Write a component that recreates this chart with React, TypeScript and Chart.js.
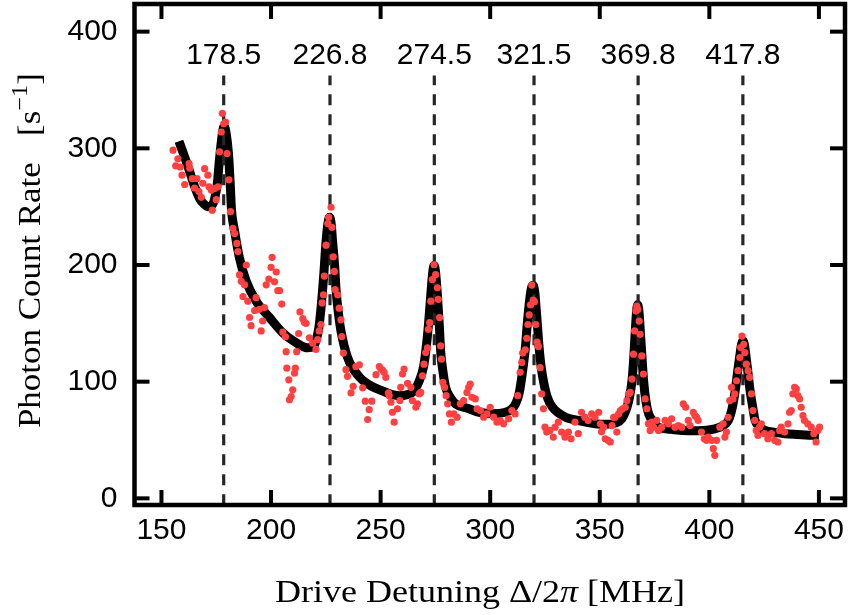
import React, { useEffect, useRef } from "react";
import { Chart, registerables } from "chart.js";

Chart.register(...registerables);

const xTicks = [150, 200, 250, 300, 350, 400, 450];
const yTicks = [0, 100, 200, 300, 400];
const xRange = [137.7, 461.9];
const yRange = [-5.7, 423.7];

const peakPositions = [178.4, 226.9, 274.5, 320.0, 367.5, 415.3];
const peakLabels = ["178.5", "226.8", "274.5", "321.5", "369.8", "417.8"];
const peakLineRange = [-6, 362.5];
const peakLabelY = 372.4;

const fitX = [
  158.0, 160.5, 162.9, 165, 167.4, 169.5, 171.2, 173, 174.3, 175.5, 176.5, 177.6, 178.6, 179.6, 180.6, 181.5,
  181.9, 183.4, 185.6, 188.7, 193.2, 199.3, 205.3, 211.4, 216.7, 219.3, 220.5, 221.8, 222.8, 224, 225.1, 226,
  226.7, 227.4, 228.1, 229, 229.7, 230.8, 231.9, 234.9, 240.3, 245, 250.9, 258.5, 264.5, 267.6, 269.5, 270.6,
  271.8, 272.9, 273.8, 274.4, 275, 275.9, 276.8, 277.4, 278.5, 279.7, 282, 284.2, 290, 294.9, 301, 307, 309.5,
  311.6, 313.2, 314.6, 316, 316.9, 318, 318.9, 319.6, 320.4, 320.7, 321.5, 322.2, 323.3, 324.5, 326.2, 328.3,
  334.4, 341, 348, 353, 357.1, 360, 362.4, 363.6, 364.7, 365.5, 366.2, 366.8, 367.3, 367.9, 368.5, 369.3, 370,
  371, 372.3, 374.5, 376.8, 381, 387.5, 395, 402.6, 406, 408.7, 410.5, 411.8, 413, 414, 414.7, 415.3, 416,
  416.6, 417.6, 418.6, 419.8, 420.9, 423, 425.4, 430, 434.5, 440, 446.7, 450,
];
const fitY = [
  306, 293, 280, 268, 257, 252, 250, 251, 257, 270, 291, 310, 319, 312, 295, 265,
  249, 229, 206, 186, 169, 155, 142, 133.5, 129, 130, 135, 146, 163, 190, 220, 236,
  241, 236, 220, 200, 178, 158, 143.5, 121, 104, 97, 92, 88, 90.8, 100.5, 112, 126,
  148, 174.7, 194, 199.5, 195, 174.7, 148, 126, 108, 95, 86, 81, 77, 73.8, 72.5, 73.8, 76,
  81, 90, 106.5, 128, 149, 170, 181, 182.5, 176, 169, 150, 132, 112, 98.6, 86, 78.4,
  69.6, 66.5, 64, 63.5, 64.5, 68, 78, 87, 100.8, 120, 143.5, 160, 166, 160, 143.5, 120, 100.8,
  84, 72.4, 66, 61, 59.5, 58.2, 58, 59.6, 62, 66.8, 78, 92.3, 110, 123.6, 132, 135, 132,
  123.6, 108, 92.3, 78, 66.8, 61, 58.2, 56.5, 55.4, 54.7, 54, 53.8,
];

const dataX = [
  155.3, 156.5, 157.5, 158.6, 159.4, 160.6, 162.6, 162.9, 164.1, 165.1, 166.2, 167.1, 168.2, 168.9, 169.7, 171.2,
  171.7, 172.7, 173.2, 174.3, 175, 175.8, 176.5, 177.3, 177.8, 178.4, 179.3, 179.9, 180.8, 181.5, 182.6, 183.4,
  184.4, 184.9, 185.6, 186.4, 187.2, 187.9, 188.7, 189.4, 190.2, 190.9, 192.5, 193.2, 194.7, 195.5, 196.2, 197,
  197.8, 199, 200, 200.5, 201.6, 202.4, 203.1, 203.9, 204.9, 205.4, 206.6, 206.9, 207.2, 208.1, 208.4, 209.2,
  209.9, 210.7, 211.1, 211.7, 212.6, 213.2, 214.5, 215.2, 216, 217.5, 219, 220.5, 221.3, 222, 222.8, 223.3,
  223.9, 224.3, 225.1, 225.9, 226.3, 227.4, 227.8, 228.4, 228.9, 229.3, 230.4, 231.1, 231.9, 232.3, 233, 234.2,
  234.9, 236.5, 237.5, 238.7, 240.3, 241.8, 243, 244.1, 244.8, 246, 247.9, 249.4, 250.1, 250.9, 251.6, 252.4,
  253.6, 253.9, 254.7, 255.4, 256.2, 257.7, 258.8, 259.2, 260, 260.7, 262.3, 263.8, 264.5, 266.1, 266.8, 267.6,
  268.3, 269.1, 269.8, 270.6, 271.4, 271.8, 272.4, 272.9, 273.6, 274.4, 275.1, 275.9, 276.3, 276.9, 277.4, 277.8,
  278.4, 279.2, 279.9, 280.6, 281.4, 282.3, 283.4, 284.9, 286.4, 287.9, 289.4, 290.2, 290.9, 291.7, 293.2, 294,
  295.5, 297, 298.5, 300, 301.6, 303.1, 304.6, 306.1, 308.4, 309.9, 311.4, 312.6, 313.7, 314.4, 314.8, 316,
  316.7, 317.2, 317.8, 318.4, 319, 319.6, 320.2, 320.8, 321.4, 322, 322.8, 323.5, 324.3, 325, 325.8, 327.3,
  328.8, 329.6, 331.1, 332.6, 334.1, 335.7, 336.9, 338.7, 340.2, 341.7, 343.2, 344.7, 346.3, 347.8, 349.5, 350.3,
  350.8, 351.8, 352.5, 353.8, 354.8, 355.6, 356.3, 356.9, 357.8, 358.6, 359.4, 360.4, 361.6, 362.4, 363.2, 363.9,
  364.7, 365.4, 365.9, 366.5, 366.9, 367.4, 368, 368.4, 369.2, 369.9, 370.7, 371.5, 372.2, 373, 373.7, 374.5,
  376, 376.8, 378.3, 379.8, 381.3, 382.8, 384.3, 385.9, 387.4, 388.1, 389.2, 390.4, 391.2, 392.7, 393.4, 394.2,
  394.9, 396.4, 397.7, 398.7, 399.5, 401, 401.8, 402.5, 403.3, 404.8, 406.3, 407.1, 407.8, 408.6, 409.3, 410.1,
  410.8, 411.6, 412.4, 413.1, 413.9, 414.3, 414.9, 415.7, 416.2, 416.9, 417.7, 418.4, 419.2, 419.9, 420.7, 421.4,
  422.2, 422.9, 423.7, 425.2, 426.7, 428.3, 429.8, 431.3, 432.1, 432.8, 434.3, 435.9, 436.6, 437.4, 438.1, 438.9,
  439.7, 440.4, 441.2, 441.9, 442.7, 443.4, 444.9, 446.5, 447.7, 448.7, 449.5, 450.3,
];
const dataY = [
  298.4, 285, 291, 284, 277, 269, 287, 283, 274, 266, 274, 263, 258, 270, 282.6, 277,
  267, 264.2, 247, 265.5, 256, 267, 297, 314, 330, 321, 322.5, 295.5, 273, 245.7, 231.5, 227,
  218.5, 211.5, 191.5, 186, 173, 183, 200, 169, 155, 148, 161, 172, 162, 143.5, 152, 163.5,
  183, 188, 198, 206.6, 185.6, 194, 178, 178, 166.5, 142.5, 138.5, 125.7, 111.6, 101.6, 84.5, 87.3,
  93, 107.2, 111.6, 125.7, 141.3, 159.8, 154, 151, 150, 137.6, 133, 127.6, 136, 143.5, 149, 167.5,
  174.5, 190.5, 217, 235.5, 241, 249.5, 232.3, 207, 194.5, 179, 174.5, 163, 153, 138.7, 124.5, 110.3,
  104.6, 90.4, 96, 113, 114.5, 94.7, 83.3, 67.6, 76, 83.3, 106, 113, 110.8, 110, 108, 103.7,
  90.4, 88, 82.4, 73.8, 65.3, 76.7, 83.8, 95.2, 106.5, 110.8, 98.6, 95.2, 83.8, 78.1, 81, 89.5,
  90.8, 105, 115, 125, 129, 144.9, 150.6, 169, 187.5, 200.2, 191.7, 180.5, 170.6, 154.9, 130.6, 119.3,
  99.5, 95.2, 88, 81, 72.4, 65.3, 72.4, 69.6, 81, 83.8, 90.8, 95.2, 98, 86.6, 85.2, 76.7,
  75.3, 69.6, 72.4, 78.1, 69.6, 65.3, 66.7, 63.9, 68.2, 75.3, 72.4, 88, 108, 116.5, 124.5, 127.3,
  137.2, 149, 157.2, 165.8, 182.8, 170, 168.6, 149, 134, 130.2, 112, 89.5, 76.7, 61, 56.8, 58.2,
  52.5, 61, 65.3, 56.8, 52.5, 56.8, 51.1, 65.3, 55.4, 73.8, 69.6, 66.7, 72.4, 69.6, 73.8, 63.9,
  57, 61, 51.1, 49.7, 48.3, 62.4, 69.5, 69.6, 56.8, 72.4, 75.2, 76.7, 78.1, 83.8, 89.5, 90.8,
  102.2, 123.6, 143.5, 160.5, 164.7, 161.8, 151.9, 140.6, 122.1, 106.5, 85.2, 76.7, 63.9, 58.2, 65.3, 61,
  66.8, 58.2, 61, 66.8, 63.9, 68.2, 61, 62.4, 61, 81, 78.1, 66.8, 62.4, 73.8, 71, 69.5,
  66.8, 56.8, 51.1, 49.7, 52.5, 49.7, 42.6, 36.9, 49.7, 61, 63.9, 52.5, 56.8, 69.5, 83.8, 95.2,
  85.2, 89.5, 100.8, 109.4, 120.7, 129.2, 139.1, 132, 124.9, 115, 109.4, 103.7, 89.5, 75.2, 66.8, 58.2,
  53.9, 61, 63.9, 55.4, 51.1, 55.4, 49.7, 48.3, 58.2, 61, 56.8, 63.9, 73.8, 75.2, 89.5, 95.2,
  93.8, 88, 85.2, 78.1, 71, 66.8, 63.9, 61, 55.4, 48.3, 58.2, 61,
];

type Part = { t: string; italic?: boolean; sup?: boolean; gap?: number };
const xTitleParts: Part[] = [
  { t: "Drive Detuning Δ/2" },
  { t: "π", italic: true },
  { t: " [MHz]" },
];
const yTitleParts: Part[] = [
  { t: "Photon Count Rate" },
  { t: "", gap: 0.75 },
  { t: "[s" },
  { t: "−1", sup: true },
  { t: "]" },
];

const TITLE_FONT = '"Liberation Serif", "DejaVu Serif", serif';
const TICK_FONT = '"Liberation Sans", Arial, sans-serif';
const TICK_SIZE = 30;

function partFont(p: Part, size: number) {
  const s = p.sup ? size * 0.7 : size;
  return `${p.italic ? "italic " : ""}${s}px ${TITLE_FONT}`;
}

function drawParts(ctx: CanvasRenderingContext2D, parts: Part[], size: number, cx: number, baseY: number, targetW: number) {
  let total = 0;
  const widths = parts.map((p) => {
    if (p.gap) return p.gap * size;
    ctx.font = partFont(p, size);
    return ctx.measureText(p.t).width;
  });
  widths.forEach((w) => (total += w));
  const sx = targetW / total;
  ctx.save();
  ctx.translate(cx - targetW / 2, baseY);
  ctx.scale(sx, 1);
  ctx.textAlign = "left";
  ctx.textBaseline = "alphabetic";
  ctx.fillStyle = "#000";
  let x = 0;
  parts.forEach((p, i) => {
    if (!p.gap) {
      ctx.font = partFont(p, size);
      ctx.fillText(p.t, x, p.sup ? -size * 0.42 : 0);
    }
    x += widths[i];
  });
  ctx.restore();
}

const framePlugin = {
  id: "frameAndLabels",
  afterDatasetsDraw(chart: any) {
    const { ctx, chartArea, scales } = chart;
    const { left, right, top, bottom } = chartArea;
    const xs = scales.x;
    const ys = scales.y;
    ctx.save();
    ctx.strokeStyle = "#000";
    ctx.lineCap = "butt";
    ctx.lineWidth = 4.5;
    ctx.strokeRect(left, top, right - left, bottom - top);
    ctx.lineWidth = 4;
    const seg = (a: number, b: number, c: number, d: number) => {
      ctx.beginPath();
      ctx.moveTo(a, b);
      ctx.lineTo(c, d);
      ctx.stroke();
    };
    xTicks.forEach((v) => {
      const px = xs.getPixelForValue(v);
      seg(px, bottom, px, bottom - 15);
      seg(px, top, px, top + 15);
    });
    yTicks.forEach((v) => {
      const py = ys.getPixelForValue(v);
      seg(left, py, left + 15, py);
      seg(right, py, right - 15, py);
    });
    ctx.font = `${TICK_SIZE}px ${TICK_FONT}`;
    ctx.textAlign = "center";
    ctx.textBaseline = "alphabetic";
    ctx.fillStyle = "#000";
    peakPositions.forEach((p, i) => {
      ctx.fillText(peakLabels[i], xs.getPixelForValue(p), ys.getPixelForValue(peakLabelY));
    });
    ctx.restore();
  },
  afterDraw(chart: any) {
    const ctx: CanvasRenderingContext2D = chart.ctx;
    drawParts(ctx, xTitleParts, 32, 480, 601.7, 410);
    ctx.save();
    ctx.translate(40, 250.6);
    ctx.rotate(-Math.PI / 2);
    drawParts(ctx, yTitleParts, 32, 0, 0, 355);
    ctx.restore();
  },
};

export default function App() {
  const ref = useRef<HTMLCanvasElement | null>(null);
  useEffect(() => {
    if (!ref.current) return;
    const fit = fitX.map((x, i) => ({ x, y: fitY[i] }));
    const pts = dataX.map((x, i) => ({ x, y: dataY[i] }));
    const dashSets = peakPositions.map((p) => ({
      type: "line" as const,
      data: [
        { x: p, y: peakLineRange[0] },
        { x: p, y: peakLineRange[1] },
      ],
      borderColor: "#262626",
      borderWidth: 3.2,
      borderDash: [11, 9],
      pointRadius: 0,
      showLine: true,
      order: 1,
    }));
    const chart = new Chart(ref.current, {
      type: "scatter",
      data: {
        datasets: [
          {
            type: "line",
            data: fit,
            borderColor: "#000",
            borderWidth: 9,
            pointRadius: 0,
            showLine: true,
            cubicInterpolationMode: "monotone",
            borderJoinStyle: "round",
            borderCapStyle: "butt",
            order: 2,
          } as any,
          ...dashSets,
          {
            type: "scatter",
            data: pts,
            backgroundColor: "rgb(255,64,64)",
            borderWidth: 0,
            pointRadius: 3.6,
            order: 0,
          } as any,
        ],
      },
      options: {
        animation: false,
        responsive: false,
        layout: { padding: { left: 0, right: 2.5, top: 1.5, bottom: 0 } },
        plugins: { legend: { display: false }, tooltip: { enabled: false } },
        scales: {
          x: {
            type: "linear",
            min: xRange[0],
            max: xRange[1],
            grid: { display: false },
            border: { display: false },
            afterBuildTicks: (s: any) => {
              s.ticks = xTicks.map((v) => ({ value: v }));
            },
            afterFit: (s: any) => {
              s.height = 110;
              s.paddingLeft = 0;
              s.paddingRight = 0;
            },
            ticks: {
              autoSkip: false,
              maxRotation: 0,
              padding: 0,
              color: "#000",
              font: { family: TICK_FONT, size: TICK_SIZE },
            },
          },
          y: {
            type: "linear",
            min: yRange[0],
            max: yRange[1],
            grid: { display: false },
            border: { display: false },
            afterBuildTicks: (s: any) => {
              s.ticks = yTicks.map((v) => ({ value: v }));
            },
            afterFit: (s: any) => {
              s.width = 134.5;
              s.paddingTop = 0;
              s.paddingBottom = 0;
            },
            ticks: {
              padding: 9,
              color: "#000",
              font: { family: TICK_FONT, size: TICK_SIZE },
            },
          },
        },
      },
      plugins: [framePlugin],
    });
    return () => chart.destroy();
  }, []);
  return (
    <div style={{ position: "absolute", left: 0, top: 0, width: 849, height: 615, background: "#fff" }}>
      <canvas ref={ref} width={849} height={615} style={{ display: "block" }} />
    </div>
  );
}
